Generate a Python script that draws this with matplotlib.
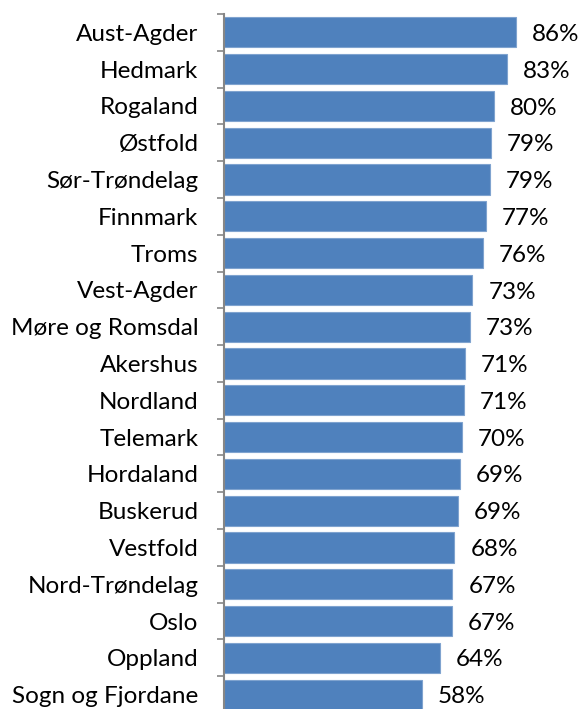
import matplotlib
import matplotlib.pyplot as plt
import numpy as np

matplotlib.use("Agg")

# Regions, top to bottom
regions = [
    "Aust-Agder", "Hedmark", "Rogaland", "Østfold", "Sør-Trøndelag",
    "Finnmark", "Troms", "Vest-Agder", "Møre og Romsdal", "Akershus",
    "Nordland", "Telemark", "Hordaland", "Buskerud", "Vestfold",
    "Nord-Trøndelag", "Oslo", "Oppland", "Sogn og Fjordane",
]
shares = [86.0, 83.3, 79.5, 78.6, 78.3, 77.0, 76.1, 73.1, 72.4, 71.0,
          70.6, 70.1, 69.4, 68.8, 67.8, 67.2, 67.1, 63.6, 58.3]
labels = ["86%", "83%", "80%", "79%", "79%", "77%", "76%", "73%", "73%", "71%",
          "71%", "70%", "69%", "69%", "68%", "67%", "67%", "64%", "58%"]

plt.rcParams["font.family"] = ["Lato", "DejaVu Sans"]

fig = plt.figure(figsize=(5.79, 7.09), dpi=100)
ax = fig.add_axes([223.5 / 579, -4 / 709, 340.5 / 579, 699 / 709])

y = np.arange(len(regions))
ax.barh(y, shares, height=0.82, color="#4F81BD", edgecolor="#7FA3CF", linewidth=0.8)

# value labels sit a touch below the bar centre, like in the original
for yi, v, lab in zip(y, shares, labels):
    ax.annotate(lab, (v, yi), xytext=(11.5, -1.5), textcoords="offset points",
                va="center", ha="left", fontsize=17.5, color="black")

ax.set_xlim(0, 100)
ax.set_ylim(len(regions) - 0.5, -0.5)

ax.set_yticks(y)
ax.set_yticklabels(regions, fontsize=17.5)
ax.tick_params(axis="y", which="major", length=0, pad=18)
ax.set_yticks(np.arange(len(regions) + 1) - 0.5, minor=True)
ax.tick_params(axis="y", which="minor", length=5, width=1.2, color="#868686")
ax.set_xticks([])

for s in ["top", "right", "bottom"]:
    ax.spines[s].set_visible(False)
ax.spines["left"].set_color("#868686")
ax.spines["left"].set_linewidth(1.5)

fig.savefig("out.png", dpi=100)
